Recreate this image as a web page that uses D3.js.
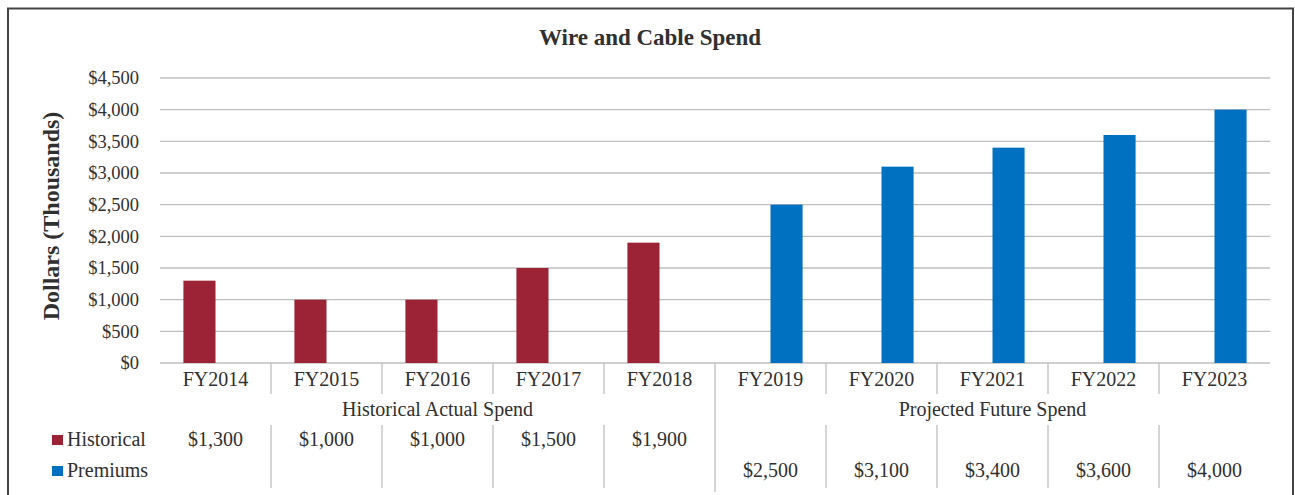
<!DOCTYPE html>
<html>
<head>
<meta charset="utf-8">
<script src="https://cdn.jsdelivr.net/npm/d3@7"></script>
<style>
  html, body { margin: 0; padding: 0; background: #fff; }
  text { font-family: "Liberation Serif", "DejaVu Serif", serif; fill: #303030; }
</style>
</head>
<body>
<svg width="1295" height="495"></svg>
<script>
// chart values
var years = ["FY2014","FY2015","FY2016","FY2017","FY2018","FY2019","FY2020","FY2021","FY2022","FY2023"];
var historical = [1300, 1000, 1000, 1500, 1900, null, null, null, null, null];
var premiums = [null, null, null, null, null, 2500, 3100, 3400, 3600, 4000];
var seriesNames = ["Historical", "Premiums"];
var seriesColors = ["#9b2335", "#0070c0"];
var groups = [
  {label: "Historical Actual Spend", first: "FY2014", last: "FY2018"},
  {label: "Projected Future Spend", first: "FY2019", last: "FY2023"}
];
var yTicks = [0, 500, 1000, 1500, 2000, 2500, 3000, 3500, 4000, 4500];

var svg = d3.select("svg");
var plotLeft = 160, plotRight = 1270, plotTop = 78, plotBottom = 363;

// outer frame
svg.append("path")
  .attr("d", "M8,496 L8,8.5 L1293,8.5 L1293,496")
  .attr("fill", "none").attr("stroke", "#444").attr("stroke-width", 2);

var x = d3.scaleBand().domain(years).range([plotLeft, plotRight]).paddingInner(0).paddingOuter(0);
var xs = d3.scaleBand().domain(seriesNames).range([0, x.bandwidth()]).paddingOuter(0.73).paddingInner(0);
var y = d3.scaleLinear().domain([0, 4500]).range([plotBottom, plotTop]);

var money = function(d) { return "$" + d3.format(",")(d); };

// gridlines
svg.append("g").selectAll("line").data(yTicks).enter().append("line")
  .attr("x1", plotLeft).attr("x2", plotRight)
  .attr("y1", function(d) { return y(d); }).attr("y2", function(d) { return y(d); })
  .attr("stroke", "#bfbfbf").attr("stroke-width", 1.3);

// y axis labels
var yAxis = d3.axisLeft(y).tickValues(yTicks).tickFormat(money).tickSize(0).tickPadding(21);
var ya = svg.append("g").attr("transform", "translate(" + plotLeft + ",0)").call(yAxis);
ya.select(".domain").remove();
ya.selectAll("text").style("font-family", "Liberation Serif, serif").style("font-size", "18.5px")
  .attr("fill", "#404040");

// bars
var series = [historical, premiums];
series.forEach(function(vals, si) {
  svg.append("g").selectAll("rect")
    .data(years.map(function(yr, i) { return {year: yr, v: vals[i]}; }).filter(function(d) { return d.v != null; }))
    .enter().append("rect")
    .attr("x", function(d) { return x(d.year) + xs(seriesNames[si]); })
    .attr("width", xs.bandwidth())
    .attr("y", function(d) { return y(d.v); })
    .attr("height", function(d) { return y(0) - y(d.v); })
    .attr("fill", seriesColors[si]);
});

// category labels
svg.append("g").selectAll("text").data(years).enter().append("text")
  .attr("x", function(d) { return x(d) + x.bandwidth() / 2; })
  .attr("y", 386).attr("text-anchor", "middle")
  .style("font-size", "20px").text(function(d) { return d; });

// table separators
var grid = svg.append("g").attr("stroke", "#bfbfbf").attr("stroke-width", 1.3);
years.slice(1).forEach(function(yr) {
  var xx = x(yr);
  if (yr === groups[1].first) {
    grid.append("line").attr("x1", xx).attr("x2", xx).attr("y1", plotBottom).attr("y2", 492);
  } else {
    grid.append("line").attr("x1", xx).attr("x2", xx).attr("y1", plotBottom).attr("y2", 394);
    grid.append("line").attr("x1", xx).attr("x2", xx).attr("y1", 425).attr("y2", 488);
  }
});

// group labels
groups.forEach(function(g) {
  var gx = (x(g.first) + x(g.last) + x.bandwidth()) / 2;
  svg.append("text").attr("x", gx).attr("y", 416).attr("text-anchor", "middle")
    .style("font-size", "20px").text(g.label);
});

// table rows with legend keys
var rowY = [446, 477];
series.forEach(function(vals, si) {
  svg.append("rect").attr("x", 52).attr("y", rowY[si] - 11).attr("width", 11).attr("height", 10)
    .attr("fill", seriesColors[si]);
  svg.append("text").attr("x", 67).attr("y", rowY[si]).style("font-size", "20px").text(seriesNames[si]);
  svg.append("g").selectAll("text")
    .data(years.map(function(yr, i) { return {year: yr, v: vals[i]}; }).filter(function(d) { return d.v != null; }))
    .enter().append("text")
    .attr("x", function(d) { return x(d.year) + x.bandwidth() / 2; })
    .attr("y", rowY[si]).attr("text-anchor", "middle")
    .style("font-size", "20px").text(function(d) { return money(d.v); });
});

// title
svg.append("text").attr("x", 650).attr("y", 45).attr("text-anchor", "middle")
  .style("font-size", "23px").style("font-weight", "bold").attr("fill", "#000").text("Wire and Cable Spend");

// y axis title
svg.append("text").attr("transform", "translate(59,216) rotate(-90)").attr("text-anchor", "middle")
  .style("font-size", "24px").style("font-weight", "bold").attr("fill", "#000").text("Dollars (Thousands)");
</script>
</body>
</html>
